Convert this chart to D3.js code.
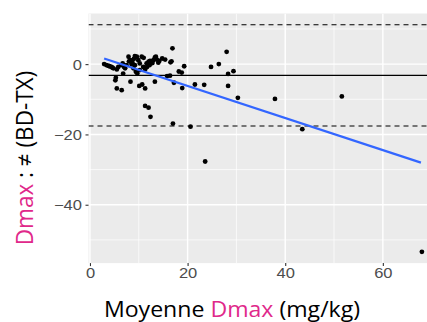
<!DOCTYPE html>
<html><head><meta charset="utf-8">
<script src="https://cdn.jsdelivr.net/npm/d3@7"></script>
<style>body{margin:0;background:#fff}svg{display:block}</style>
</head><body>
<svg id="c" width="427" height="322"></svg>
<script>
// data: mean Dmax (x) vs difference BD-TX (y)
const xs = [2.9,3.4,4.0,4.4,4.8,5.5,5.8,6.4,6.7,7.9,8.3,8.7,9.2,9.6,9.9,10.2,10.6,8.9,9.4,9.7,10.2,11.6,12.0,12.3,12.6,13.0,13.3,13.7,14.2,14.8,11.7,12.2,10.9,8.5,7.5,7.2,
  16.9,28.0,26.4,24.8,19.3,29.4,28.3,28.3,30.3,37.9,51.6,43.5,68.0,23.6,20.6,17.0,21.5,23.4,18.9,17.2,18.2,18.8,16.4,15.8,16.7,13.3,12.4,12.0,11.3,11.3,10.7,10.1,8.3,6.5,5.5,5.2,5.3,6.8,
  15.4,16.5,13.5,9.2,11.3,3.8,4.6,7.0,8.0,9.0,11.0,12.8,14.0];
const ys = [0,-0.3,-0.6,-0.8,-1.2,-1.5,-0.8,-0.3,0.2,2.1,1.1,0.4,-0.3,2.1,1.1,0.2,2.1,-1.2,-2.2,-2.7,-1.7,0.2,0.7,0.9,0.6,1.1,1.9,1.3,0.9,1.6,-0.8,-0.3,-0.8,0,-0.3,-1.2,
  4.5,3.5,0,-0.8,-0.6,-2.0,-2.8,-6.2,-9.6,-9.9,-9.2,-18.5,-53.4,-27.7,-17.8,-16.9,-5.8,-5.9,-6.8,-5.3,-2.1,-2.4,-3.3,-3.4,0.8,-5.0,-15.0,-12.4,-11.9,-6.9,-5.8,-6.2,-5.0,-7.4,-6.9,-4.6,-3.9,-2.7,
  1.3,0.5,2.1,2.3,-1.5,-0.5,-1.0,-0.8,0.8,1.5,1.8,0.3,0.4];
const meanDiff = -3.2, upperLoA = 11.2, lowerLoA = -17.6;
const fitX = [2.9, 67.8], fitY = [1.6, -28.0];
const xTicks = [0,20,40,60], xMinor = [10,30,50,70];
const yTicks = [0,-20,-40], yMinor = [10,-10,-30,-50];

const svg = d3.select("#c");
const L = 88.5, R = 438, T = 13.5, B = 263.1, SX = 1.18;
const x = d3.scaleLinear().domain([-0.3,71.3]).range([L,R]);
const y = d3.scaleLinear().domain([-56.6,14.4]).range([B,T]);
svg.append("clipPath").attr("id","pc").append("rect").attr("x",L).attr("y",T).attr("width",R-L).attr("height",B-T);
svg.append("rect").attr("x",L).attr("y",T).attr("width",R-L).attr("height",B-T).attr("fill","#EBEBEB");
const g = svg.append("g").attr("clip-path","url(#pc)");
g.selectAll(".xm").data(xMinor).join("line").attr("x1",d=>x(d)).attr("x2",d=>x(d)).attr("y1",T).attr("y2",B).attr("stroke","#fff").attr("stroke-width",0.7);
g.selectAll(".ym").data(yMinor).join("line").attr("y1",d=>y(d)).attr("y2",d=>y(d)).attr("x1",L).attr("x2",R).attr("stroke","#fff").attr("stroke-width",0.7);
g.selectAll(".xM").data(xTicks).join("line").attr("x1",d=>x(d)).attr("x2",d=>x(d)).attr("y1",T).attr("y2",B).attr("stroke","#fff").attr("stroke-width",1.4);
g.selectAll(".yM").data(yTicks).join("line").attr("y1",d=>y(d)).attr("y2",d=>y(d)).attr("x1",L).attr("x2",R).attr("stroke","#fff").attr("stroke-width",1.4);
// reference lines
g.append("line").attr("x1",L).attr("x2",R).attr("y1",y(meanDiff)).attr("y2",y(meanDiff)).attr("stroke","#000").attr("stroke-width",1.1);
[upperLoA, lowerLoA].forEach(v=>g.append("line").attr("x1",L).attr("x2",R).attr("y1",y(v)).attr("y2",y(v)).attr("stroke","#000").attr("stroke-width",1.1).attr("stroke-dasharray","5,4"));
// points
const pts = xs.map((v,i)=>[v,ys[i]]);
g.selectAll("circle").data(pts).join("circle").attr("cx",d=>x(d[0])).attr("cy",d=>y(d[1])).attr("r",2.4).attr("fill","#000");
// fit
g.append("line").attr("x1",x(fitX[0])).attr("y1",y(fitY[0])).attr("x2",x(fitX[1])).attr("y2",y(fitY[1])).attr("stroke","#3366FF").attr("stroke-width",2.3);
// axes
const xa = svg.append("g").attr("transform",`translate(0,${B})`).call(d3.axisBottom(x).tickValues(xTicks).tickSize(3).tickPadding(2).tickFormat(d3.format("d")));
const ya = svg.append("g").attr("transform",`translate(${L},0)`).call(d3.axisLeft(y).tickValues(yTicks).tickSize(3).tickPadding(3).tickFormat(d=>d<0?"\u2212"+Math.abs(d):d));
[xa,ya].forEach(a=>{a.select(".domain").remove();a.selectAll(".tick line").attr("stroke","#333").attr("stroke-width",1.1);
  a.selectAll(".tick text").attr("fill","#4D4D4D").attr("font-family","Liberation Sans, Arial, sans-serif").attr("font-size",14);});
xa.selectAll(".tick text").attr("dy","0.71em").attr("transform",`scale(${SX},1)`);
ya.selectAll(".tick text").attr("dy","0.35em").attr("transform",`translate(-3,0) scale(${SX},1) translate(3,0)`);
// titles
const pink = "#E0288A";
const xt = svg.append("text").attr("transform",`translate(232,317) scale(1.1,1)`).attr("text-anchor","middle")
  .attr("font-family","Open Sans, sans-serif").attr("font-size",21).attr("fill","#000");
xt.append("tspan").text("Moyenne ");
xt.append("tspan").attr("fill",pink).text("Dmax");
xt.append("tspan").text(" (mg/kg)");
const yt = svg.append("text").attr("transform",`translate(33,158) scale(1.04,1) rotate(-90)`).attr("text-anchor","middle")
  .attr("font-family","Open Sans, sans-serif").attr("font-size",22.5).attr("fill","#000");
yt.append("tspan").attr("fill",pink).text("Dmax");
yt.append("tspan").text(" : \u2260 (BD-TX)");
</script>
</body></html>
